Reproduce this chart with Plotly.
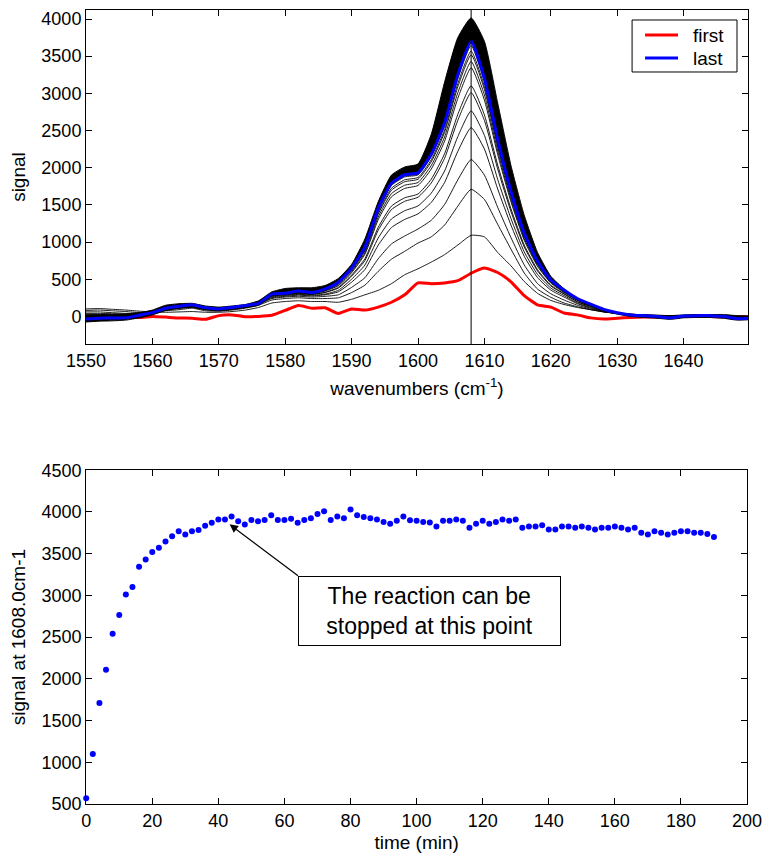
import plotly.graph_objects as go

# ---------------------------------------------------------------
# Spectral data (wavenumber grid, cm-1)
# ---------------------------------------------------------------
wavenumbers = list(range(1550, 1651, 2))

spec_first = [-10, -5, -10, -5, -15, 0, -10, -22, -25, -40, 10, 20, -5, 0,
              15, 80, 145, 110, 115, 40, 100, 85, 125, 190, 290, 450, 440, 450, 480,
              580, 650, 590, 465, 280, 155, 125, 45, 20, -20, -35, -25,
              -15, -10, -10, -5, 0, 0, 0, -10, -5, -5]

spec_last = [-35, -25, -22, -20, 15, 50, 110, 135, 155, 115, 100, 120, 145, 175,
             300, 310, 340, 320, 370, 460, 650, 930, 1450, 1790, 1905, 1930, 2180, 2600, 3250,
             3700, 3200, 2380, 1680, 1120, 740, 490, 355, 240, 165, 95, 50,
             20, 10, 0, -20, 5, 10, 10, 0, -30, -25]

# growing spectra recorded during the first minutes
spec_t02 = [100, 105, 95, 85, 70, 60, 55, 60, 65, 55, 55, 65, 85, 120,
            180, 200, 210, 200, 200, 190, 230, 290, 350, 440, 560, 640, 730, 830, 960,
            1090, 1070, 860, 680, 470, 310, 215, 160, 120, 90, 60, 40,
            30, 20, 15, 10, 10, 10, 10, 5, 0, 0]
spec_t04 = [80, 85, 75, 65, 50, 55, 75, 90, 110, 75, 70, 85, 110, 150,
            220, 240, 250, 240, 240, 250, 320, 420, 605, 769, 875, 986, 1070, 1228, 1483,
            1709, 1573, 1238, 905, 584, 367, 257, 180, 130, 90, 60, 40,
            30, 20, 10, 5, 10, 10, 10, 5, -5, -5]
spec_t06 = [60, 60, 50, 40, 40, 55, 85, 105, 125, 90, 80, 95, 120, 160,
            240, 260, 270, 260, 270, 290, 390, 520, 774, 974, 1081, 1175, 1293, 1504, 1837,
            2109, 1900, 1467, 1060, 692, 442, 304, 220, 150, 100, 60, 40,
            30, 15, 10, 0, 10, 10, 10, 5, -10, -10]
spec_t08 = [40, 40, 35, 25, 30, 50, 90, 115, 135, 100, 85, 100, 125, 165,
            250, 270, 285, 275, 290, 330, 460, 630, 957, 1195, 1304, 1379, 1533, 1800, 2220,
            2539, 2251, 1714, 1228, 808, 522, 354, 260, 170, 110, 65, 40,
            25, 15, 5, -5, 5, 10, 10, 0, -15, -15]
spec_t10 = [20, 25, 20, 15, 25, 50, 95, 120, 140, 100, 90, 105, 130, 165,
            260, 280, 295, 285, 300, 350, 500, 690, 1053, 1310, 1421, 1486, 1658, 1955, 2419,
            2764, 2435, 1843, 1316, 868, 565, 381, 280, 180, 120, 70, 40,
            25, 15, 5, -5, 5, 10, 10, 0, -15, -15]
spec_t12 = [10, 10, 5, 5, 20, 45, 100, 125, 145, 105, 90, 110, 135, 170,
            270, 290, 305, 295, 320, 380, 540, 750, 1157, 1436, 1548, 1603, 1795, 2125, 2638,
            3010, 2636, 1984, 1411, 934, 611, 409, 300, 195, 130, 75, 40,
            25, 15, 5, -10, 5, 10, 10, 0, -20, -20]
spec_t14 = [0, 0, -5, 0, 20, 45, 100, 125, 145, 105, 95, 110, 135, 170,
            275, 292, 308, 298, 325, 390, 555, 775, 1196, 1483, 1595, 1646, 1846, 2187, 2718,
            3101, 2710, 2036, 1447, 959, 628, 420, 305, 200, 135, 78, 42,
            25, 15, 5, -10, 5, 10, 10, 0, -20, -20]
spec_t16 = [-10, -10, -10, -5, 15, 45, 105, 130, 150, 110, 95, 115, 140, 170,
            285, 298, 318, 305, 341, 412, 587, 834, 1299, 1608, 1721, 1761, 1982, 2355, 2934,
            3344, 2909, 2176, 1541, 1024, 673, 448, 320, 215, 144, 85, 45,
            25, 12, 5, -10, 5, 10, 10, 0, -20, -20]
spec_t18 = [-20, -15, -15, -10, 15, 45, 105, 130, 150, 110, 95, 115, 140, 172,
            290, 302, 323, 308, 348, 423, 602, 856, 1335, 1651, 1764, 1801, 2029, 2413, 3009,
            3429, 2978, 2224, 1574, 1047, 689, 458, 328, 221, 149, 88, 46,
            25, 12, 3, -12, 5, 10, 10, 0, -25, -20]
spec_t20 = [-30, -20, -20, -15, 15, 50, 108, 132, 152, 112, 98, 118, 142, 172,
            294, 305, 329, 312, 355, 436, 618, 881, 1373, 1697, 1811, 1844, 2079, 2475, 3089,
            3519, 3052, 2276, 1610, 1071, 706, 469, 337, 227, 154, 90, 48,
            22, 12, 3, -15, 5, 10, 10, 0, -25, -20]
spec_t22 = [-40, -30, -25, -20, 15, 50, 108, 132, 152, 112, 98, 118, 142, 174,
            296, 307, 332, 314, 359, 442, 627, 895, 1394, 1723, 1837, 1868, 2107, 2510, 3134,
            3569, 3093, 2305, 1629, 1085, 715, 475, 342, 231, 157, 92, 49,
            22, 10, 2, -15, 5, 10, 10, 0, -25, -25]
spec_t24 = [-50, -40, -30, -25, 15, 50, 110, 134, 154, 114, 100, 120, 144, 174,
            298, 308, 336, 316, 365, 452, 640, 915, 1426, 1761, 1876, 1903, 2149, 2561, 3200,
            3644, 3154, 2348, 1658, 1105, 729, 483, 349, 236, 162, 94, 50,
            22, 10, 2, -18, 5, 10, 10, 0, -28, -25]

# envelope of the dense bundle of plateau spectra (t >= 26 min)
plateau_upper = [20, 25, 30, 35, 50, 85, 150, 170, 175, 140, 125, 140, 160, 210,
                 330, 375, 385, 385, 415, 510, 700, 1040, 1540, 1900, 2010, 2050, 2450, 3150, 3750,
                 4015, 3700, 2870, 2030, 1360, 860, 540, 370, 240, 150, 85, 40,
                 25, 20, 15, 10, 20, 25, 25, 25, 10, 5]
plateau_lower = [-75, -65, -60, -50, -20, 20, 80, 110, 120, 90, 75, 95, 120, 150,
                 280, 295, 320, 305, 355, 445, 630, 900, 1420, 1770, 1890, 1915, 2160, 2580, 3220,
                 3680, 3180, 2360, 1660, 1100, 720, 470, 335, 220, 145, 75, 30,
                 0, -15, -25, -40, -20, -15, -15, -25, -50, -45]

growth_spectra = [spec_t02, spec_t04, spec_t06, spec_t08, spec_t10, spec_t12,
                  spec_t14, spec_t16, spec_t18, spec_t20, spec_t22, spec_t24]

# ---------------------------------------------------------------
# Kinetic trace: signal at 1608.0 cm-1 versus time
# ---------------------------------------------------------------
time_min = list(range(0, 191, 2))
signal_1608 = [570, 1100, 1710, 2110, 2540, 2765, 3010, 3100, 3345, 3430,
               3520, 3570, 3645, 3710, 3770, 3730, 3770, 3785, 3835, 3870,
               3910, 3910, 3945, 3890, 3850, 3905, 3890, 3905, 3960, 3905,
               3905, 3920, 3870, 3905, 3925, 3975, 4010, 3905, 3945, 3925,
               4030, 3960, 3940, 3925, 3910, 3880, 3860, 3895, 3945, 3900,
               3895, 3880, 3875, 3825, 3895, 3895, 3910, 3895, 3810, 3860,
               3895, 3860, 3880, 3910, 3895, 3910, 3810, 3825, 3825, 3840,
               3790, 3790, 3825, 3825, 3810, 3825, 3810, 3790, 3810, 3810,
               3825, 3810, 3790, 3810, 3750, 3730, 3770, 3750, 3730, 3750,
               3770, 3770, 3750, 3750, 3735, 3700]

marker_wn = 1608
arrow_tip = (43.4, 3852)
box_corner = (64.1, 3235)
note_text = "The reaction can be<br>stopped at this point"
legend_labels = ["first", "last"]
legend_colors = ["#ff0000", "#0000ff"]

FONT = "Liberation Sans, Arial, Helvetica, sans-serif"
SMOOTH = dict(shape="spline", smoothing=0.5)

fig = go.Figure()

# first spectrum (drawn first so that later spectra sit on top of it)
fig.add_trace(go.Scatter(x=wavenumbers, y=spec_first, mode="lines", name="first",
                         showlegend=False,
                         line=dict(color=legend_colors[0], width=3, **SMOOTH),
                         xaxis="x", yaxis="y"))

# dense bundle of plateau spectra
fig.add_trace(go.Scatter(x=wavenumbers, y=plateau_lower, mode="lines", showlegend=False,
                         line=dict(color="black", width=1, **SMOOTH), hoverinfo="skip",
                         xaxis="x", yaxis="y"))
fig.add_trace(go.Scatter(x=wavenumbers, y=plateau_upper, mode="lines", showlegend=False,
                         line=dict(color="black", width=1, **SMOOTH), fill="tonexty",
                         fillcolor="black", hoverinfo="skip", xaxis="x", yaxis="y"))

# individual growth spectra
for spec in growth_spectra:
    fig.add_trace(go.Scatter(x=wavenumbers, y=spec, mode="lines", showlegend=False,
                             line=dict(color="black", width=0.9, **SMOOTH),
                             hoverinfo="skip", xaxis="x", yaxis="y"))

fig.add_trace(go.Scatter(x=wavenumbers, y=spec_last, mode="lines", name="last",
                         showlegend=False,
                         line=dict(color=legend_colors[1], width=3, **SMOOTH),
                         xaxis="x", yaxis="y"))

# kinetic profile
fig.add_trace(go.Scatter(x=time_min, y=signal_1608, mode="markers", showlegend=False,
                         marker=dict(color="#0000ff", size=6), xaxis="x2", yaxis="y2",
                         cliponaxis=False))

axis_common = dict(showline=True, linecolor="black", linewidth=1, mirror="ticks",
                   ticks="inside", ticklen=6, tickcolor="black", showgrid=False,
                   zeroline=False, automargin=False,
                   tickfont=dict(family=FONT, size=18, color="black"))
title_font = dict(family=FONT, size=19, color="black")

fig.update_layout(
    width=767, height=855,
    margin=dict(l=85.5, r=19, t=10, b=51),
    paper_bgcolor="white", plot_bgcolor="white",
    font=dict(family=FONT, color="black"),
    showlegend=False,
    xaxis=dict(domain=[0, 1], range=[1550, 1649.7], anchor="y",
               tickvals=list(range(1550, 1641, 10)),
               title=dict(text="wavenumbers (cm<sup>-1</sup>)", font=title_font, standoff=12),
               **axis_common),
    yaxis=dict(domain=[0.5793, 1], range=[-372, 4121], anchor="x",
               tickvals=list(range(0, 4001, 500)),
               title=dict(text="signal", font=title_font, standoff=10),
               **axis_common),
    xaxis2=dict(domain=[0.0003, 0.9985], range=[0, 200], anchor="y2",
                tickvals=list(range(0, 201, 20)),
                title=dict(text="time (min)", font=title_font, standoff=6),
                **axis_common),
    yaxis2=dict(domain=[0, 0.4203], range=[500, 4500], anchor="x2",
                tickvals=list(range(500, 4501, 500)),
                title=dict(text="signal at 1608.0cm-1", font=title_font, standoff=10),
                **axis_common),
)

# vertical marker at the monitored wavenumber
fig.add_shape(type="line", xref="x", yref="y domain", x0=marker_wn, x1=marker_wn,
              y0=0, y1=1, line=dict(color="black", width=1))

# legend box for the first / last spectra (upper-right corner of the spectra panel)
fig.add_shape(type="rect", xref="x domain", yref="y domain",
              x0=0.8249, x1=0.9834, y0=0.8144, y1=0.9701,
              line=dict(color="black", width=1), fillcolor="white", layer="above")
for label, color, yy in zip(legend_labels, legend_colors, [0.9251, 0.8563]):
    fig.add_shape(type="line", xref="x domain", yref="y domain",
                  x0=0.8445, x1=0.8943, y0=yy, y1=yy,
                  line=dict(color=color, width=3), layer="above")
    fig.add_annotation(x=0.9140, y=yy, xref="x domain", yref="y domain",
                       text=label, showarrow=False, xanchor="left", yanchor="middle",
                       font=dict(family=FONT, size=19, color="black"))

# boxed note whose arrow points at the end of the growth phase
fig.add_annotation(x=arrow_tip[0], y=arrow_tip[1], xref="x2", yref="y2",
                   ax=box_corner[0], ay=box_corner[1], axref="x2", ayref="y2",
                   xanchor="left", yanchor="top",
                   text=note_text, showarrow=True, arrowhead=2, arrowsize=1.4,
                   arrowwidth=1.2, arrowcolor="black", standoff=0,
                   align="center", font=dict(family=FONT, size=23, color="black"),
                   bordercolor="black", borderwidth=1, bgcolor="white",
                   width=255, height=62, borderpad=3)

fig.write_html("out.html")
